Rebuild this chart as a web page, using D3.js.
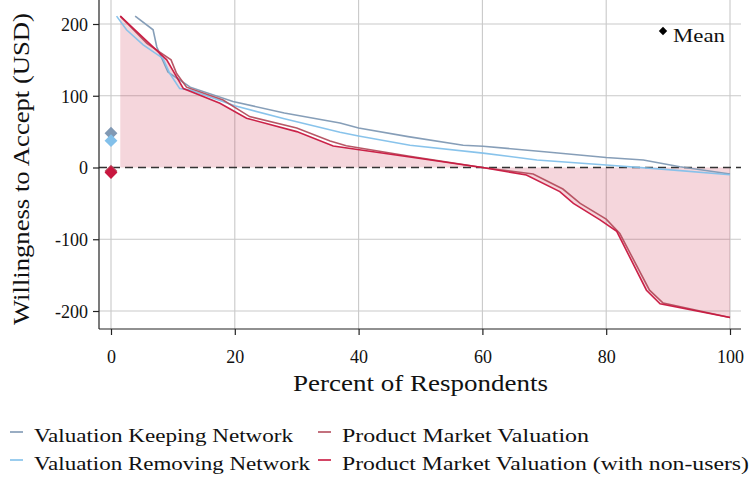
<!DOCTYPE html>
<html><head><meta charset="utf-8">
<script src="https://cdn.jsdelivr.net/npm/d3@7"></script>
<style>body{margin:0;background:#fff}svg{display:block}</style>
</head><body><svg id="c" width="749" height="479"></svg>
<script>
// ---- data ----
const xTicks = [0, 20, 40, 60, 80, 100];
const yTicks = [-200, -100, 0, 100, 200];
const seriesNames = ["Valuation Keeping Network", "Valuation Removing Network", "Product Market Valuation", "Product Market Valuation (with non-users)"];
const seriesColors = ["#8099b4", "#82c0ea", "#b44e5e", "#c8173f"];
const keepX = [3.9, 6.8, 7.4, 9.2, 11.1, 12.8, 19.7, 28, 37, 40, 48, 56.9, 60.1, 70, 80, 86, 91.9, 100];
const keepY = [211, 192, 168, 133, 122, 112, 92, 76, 62, 55, 43, 31, 29.7, 22, 14, 10.5, 1, -9];
const removeX = [0.9, 2.5, 5.2, 8.4, 9.5, 11.1, 12.8, 20, 28, 37, 40, 48.3, 60.1, 68.8, 80, 90, 100];
const removeY = [211, 192, 171, 152, 131, 110, 108, 86, 68, 49, 44, 31, 20, 10.5, 3.5, -3, -10];
const pmvX = [1.5, 5.8, 9.7, 10.6, 12.2, 18.1, 22.4, 30, 35.4, 38, 48, 60, 68.2, 73, 75.8, 80, 82.2, 87, 89.2, 100];
const pmvY = [211, 173, 150, 131, 112, 94, 71, 55, 37, 30.4, 16, 0, -9, -30, -50, -72, -92, -171, -189, -209];
const nuX = [1.5, 9, 11.7, 17.6, 21.9, 30, 35.9, 48, 60, 67.1, 72.5, 74.7, 79, 81.7, 86.5, 88.7, 100];
const nuY = [211, 150, 110, 89.5, 68.6, 50, 30, 15, 0, -10.5, -33.6, -50, -73, -89, -171, -190, -209];
const meanValues = [47.7, 37.4, -5, -7];

// ---- layout ----
const FONT = '"Liberation Serif", serif';
const svg = d3.select("#c");
const L = 99, R = 741, T = 0, B = 329;
const x = d3.scaleLinear().domain([0, 100]).range([111, 730]);
const y = d3.scaleLinear().domain([200, -200]).range([24, 311]);
const sx = [keepX, removeX, pmvX, nuX], sy = [keepY, removeY, pmvY, nuY];
const series = sx.map((xs, i) => xs.map((v, j) => [v, sy[i][j]]));

// gridlines
const grid = svg.append("g");
grid.selectAll("line.v").data(xTicks).join("line")
  .attr("x1", d => x(d)).attr("x2", d => x(d)).attr("y1", T).attr("y2", B)
  .attr("stroke", "#c9c9c9").attr("stroke-width", 1.1);
grid.selectAll("line.h").data(yTicks.filter(d => d !== 0)).join("line")
  .attr("x1", L).attr("x2", R).attr("y1", d => y(d)).attr("y2", d => y(d))
  .attr("stroke", "#c9c9c9").attr("stroke-width", 1.1);

// fill between non-user line and zero
const area = d3.area().x(d => x(d[0])).y0(y(0)).y1(d => y(d[1]));
svg.append("path").datum(series[3]).attr("d", area)
  .attr("fill", "rgba(200,30,60,0.18)");

// zero line
svg.append("line").attr("x1", L).attr("x2", R).attr("y1", y(0)).attr("y2", y(0))
  .attr("stroke", "#333").attr("stroke-width", 1.3).attr("stroke-dasharray", "8,5");

// series lines
const line = d3.line().x(d => x(d[0])).y(d => y(d[1]));
svg.append("g").selectAll("path").data(series).join("path")
  .attr("d", line).attr("fill", "none")
  .attr("stroke", (d, i) => seriesColors[i]).attr("stroke-width", 1.6)
  .attr("stroke-opacity", 0.95);

// means
const diamond = d3.symbol().type(d3.symbolDiamond2).size(105);
svg.append("g").selectAll("path").data(meanValues).join("path")
  .attr("d", diamond)
  .attr("transform", d => `translate(${x(0)},${y(d)})`)
  .attr("fill", (d, i) => seriesColors[i]);

// spines
svg.append("line").attr("x1", L).attr("x2", L).attr("y1", T).attr("y2", B).attr("stroke", "#222").attr("stroke-width", 1.2);
svg.append("line").attr("x1", L).attr("x2", R).attr("y1", B).attr("y2", B).attr("stroke", "#222").attr("stroke-width", 1.2);

// axes
const yAxis = svg.append("g").attr("transform", `translate(${L},0)`)
  .call(d3.axisLeft(y).tickValues(yTicks).tickSize(6).tickPadding(5).tickFormat(d => String(d)));
const xAxis = svg.append("g").attr("transform", `translate(0,${B})`)
  .call(d3.axisBottom(x).tickValues(xTicks).tickSize(6).tickFormat(d => String(d)));
[yAxis, xAxis].forEach(a => {
  a.attr("font-family", null).attr("font-size", null);
  a.select(".domain").remove();
  a.selectAll(".tick line").attr("stroke", "#222").attr("stroke-width", 1.2);
  a.selectAll(".tick text").style("font-size", "18px");
});
xAxis.selectAll(".tick text").attr("y", 34).attr("dy", 0);
yAxis.selectAll(".tick text").attr("dy", "0.35em");

// axis titles
svg.append("text").attr("x", 420.5).attr("y", 391).attr("text-anchor", "middle")
  .style("font-size", "23px").attr("textLength", 255).attr("lengthAdjust", "spacingAndGlyphs")
  .text("Percent of Respondents");
svg.append("text").attr("transform", "translate(29,169) rotate(-90)").attr("text-anchor", "middle")
  .style("font-size", "23px").attr("textLength", 312).attr("lengthAdjust", "spacingAndGlyphs")
  .text("Willingness to Accept (USD)");

// mean legend
svg.append("path").attr("d", d3.symbol().type(d3.symbolDiamond2).size(45)).attr("transform", "translate(663,31)").attr("fill", "#000");
svg.append("text").attr("x", 673).attr("y", 42).style("font-size", "19px")
  .attr("textLength", 52).attr("lengthAdjust", "spacingAndGlyphs").text("Mean");

// bottom legend
const legendPos = [[10, 436, 259], [10, 464, 276], [318, 436, 247], [318, 464, 407]];
const lg = svg.append("g").selectAll("g").data(seriesNames).join("g")
  .attr("transform", (d, i) => `translate(${legendPos[i][0]},${legendPos[i][1]})`);
lg.append("line").attr("x1", 0).attr("x2", 13).attr("y1", -4).attr("y2", -4)
  .attr("stroke", (d, i) => seriesColors[i]).attr("stroke-width", 2).attr("stroke-opacity", 0.8);
lg.append("text").attr("x", 24).attr("y", 6).style("font-size", "19px")
  .attr("textLength", (d, i) => legendPos[i][2]).attr("lengthAdjust", "spacingAndGlyphs")
  .text(d => d);

// serif font on every text
svg.selectAll("text").style("font-family", FONT).style("fill", "#111");
</script></body></html>
